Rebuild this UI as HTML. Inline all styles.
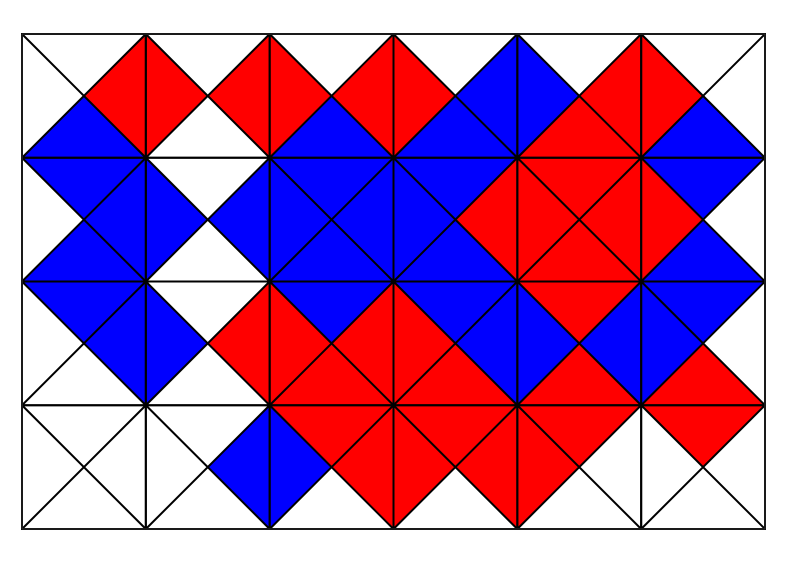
<!DOCTYPE html>
<html><head><meta charset="utf-8"><style>
html,body{margin:0;padding:0;background:#fff;width:798px;height:568px;overflow:hidden}
svg{display:block}
</style></head><body>
<svg id="chart" width="798" height="568" viewBox="0 0 798 568" xmlns="http://www.w3.org/2000/svg">
<g id="cells"></g>
<g id="lines"></g>
<rect x="22" y="34" width="743" height="495" fill="none" stroke="#333" stroke-width="1"/>
</svg>
<script>
// per-cell triangle values: order top,right,bottom,left ; r=red, b=blue, w=empty
const row0 = ["wrbw","wrwr","wrbr","wbbr","wrrb","wwbr"];
const row1 = ["bbbw","wbwb","bbbb","brbb","rrrr","bwbr"];
const row2 = ["bbww","wrwb","brrr","bbrr","rbrb","bwrb"];
const row3 = ["wwww","wbww","rrwb","rrwr","rwwr","rwww"];
const rows = [row0,row1,row2,row3];
const nCols = 6, nRows = 4;

const X0=22, X1=765, Y0=34, Y1=529;
const xs = c => X0 + (X1-X0)*c/nCols;
const ys = r => Y0 + (Y1-Y0)*r/nRows;
const colors = {r:"#ff0000", b:"#0000ff"};
const NS="http://www.w3.org/2000/svg";
const cg=document.getElementById('cells'), lg=document.getElementById('lines');
const names=["top","right","bottom","left"];
rows.forEach((row,r)=>{
  row.forEach((cell,c)=>{
    const x0=xs(c),x1=xs(c+1),y0=ys(r),y1=ys(r+1),cx=(x0+x1)/2,cy=(y0+y1)/2;
    const tris=[[[x0,y0],[x1,y0]],[[x1,y0],[x1,y1]],[[x1,y1],[x0,y1]],[[x0,y1],[x0,y0]]];
    for(let k=0;k<4;k++){
      const v=cell[k];
      if(v==='w') continue;
      const p=document.createElementNS(NS,'polygon');
      p.setAttribute('points',`${tris[k][0].join(',')} ${tris[k][1].join(',')} ${cx},${cy}`);
      p.setAttribute('fill',colors[v]);
      
      
      cg.appendChild(p);
    }
    const d=document.createElementNS(NS,'path');
    d.setAttribute('d',`M${x0},${y0}L${x1},${y1}M${x1},${y0}L${x0},${y1}M${x0},${y0}H${x1}V${y1}H${x0}Z`);
    d.setAttribute('fill','none');
    d.setAttribute('stroke','#000');
    d.setAttribute('stroke-width','2');
    
    
    lg.appendChild(d);
  });
});
</script>
</body></html>
